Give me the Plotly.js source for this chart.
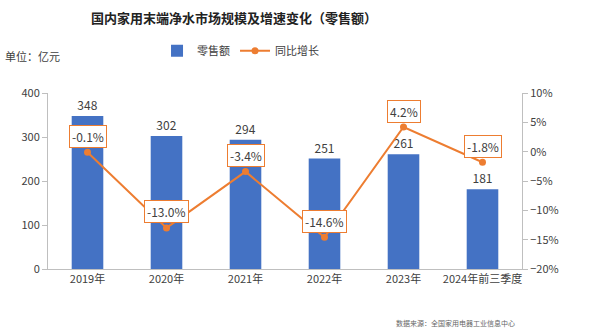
<!DOCTYPE html>
<html><head><meta charset="utf-8">
<script src="https://cdn.plot.ly/plotly-3.0.1.min.js"></script>
<style>body{margin:0;background:#fff}#c{width:600px;height:330px}</style>
</head><body><div id="c"></div>
<script>
const categories = ['2019年','2020年','2021年','2022年','2023年','2024年前三季度'];
const retailSales = [348, 302, 294, 251, 261, 181];
const yoyGrowth = [-0.001, -0.130, -0.034, -0.146, 0.042, -0.018];
const yoyLabels = ['-0.1%','-13.0%','-3.4%','-14.6%','4.2%','-1.8%'];

const FONT = '"Noto Sans CJK SC", "Noto Sans", sans-serif';
const BLUE = '#4472C4', ORANGE = '#ED7D31', TXT = '#404040', AX = '#bfbfbf';

const traces = [
  {type:'bar', name:'零售额', x:categories, y:retailSales, marker:{color:BLUE},
   text:retailSales.map(String), textposition:'outside', cliponaxis:false,
   textfont:{size:12, color:TXT, family:FONT}},
  {type:'scatter', mode:'lines+markers', name:'同比增长', x:categories, y:yoyGrowth, yaxis:'y2',
   line:{color:ORANGE, width:2}, marker:{color:ORANGE, size:7}}
];

const annotations = categories.map((c,i)=>({
  x:c, y:yoyGrowth[i], xref:'x', yref:'y2', text:yoyLabels[i], showarrow:false,
  yshift:16, bgcolor:'#fff', bordercolor:ORANGE, borderwidth:1, borderpad:2,
  font:{size:12, color:TXT, family:FONT}
}));
annotations.push({xref:'paper', yref:'paper', x:-0.095, y:1.21, xanchor:'left', yanchor:'middle',
  text:'单位：亿元', showarrow:false, font:{size:11, color:TXT, family:FONT}});
annotations.push({xref:'paper', yref:'paper', x:0.99, y:-0.307, xanchor:'right', yanchor:'middle',
  text:'数据来源：全国家用电器工业信息中心', showarrow:false, font:{size:7, color:'#666', family:FONT}});

const layout = {
  width:600, height:330, margin:{l:48, r:78, t:93, b:61},
  paper_bgcolor:'#fff', plot_bgcolor:'#fff',
  font:{family:FONT, color:TXT, size:11},
  title:{text:'<b>国内家用末端净水市场规模及增速变化（零售额）</b>', x:234/600, xanchor:'center',
         y:1-18/330, yanchor:'middle', yref:'container', font:{size:13, color:'#222', family:FONT}},
  bargap:0.6,
  showlegend:true,
  legend:{orientation:'h', x:0.23, y:1.24, xanchor:'left', yanchor:'middle',
          font:{size:11, color:TXT, family:FONT}, traceorder:'normal'},
  xaxis:{showline:true, linecolor:AX, ticks:'', tickfont:{size:11, color:TXT}, showgrid:false},
  yaxis:{range:[0,400], dtick:100, showline:true, linecolor:AX, ticks:'outside', ticklen:5,
         tickcolor:AX, showgrid:false, zeroline:false, tickfont:{size:11, color:TXT}},
  yaxis2:{overlaying:'y', side:'right', range:[-0.2,0.1], dtick:0.05, tickformat:'.0%',
          showline:true, linecolor:AX, ticks:'outside', ticklen:5, tickcolor:AX,
          showgrid:false, zeroline:false, tickfont:{size:11, color:TXT}},
  annotations:annotations
};
Plotly.newPlot('c', traces, layout, {displayModeBar:false, staticPlot:true});
</script></body></html>
